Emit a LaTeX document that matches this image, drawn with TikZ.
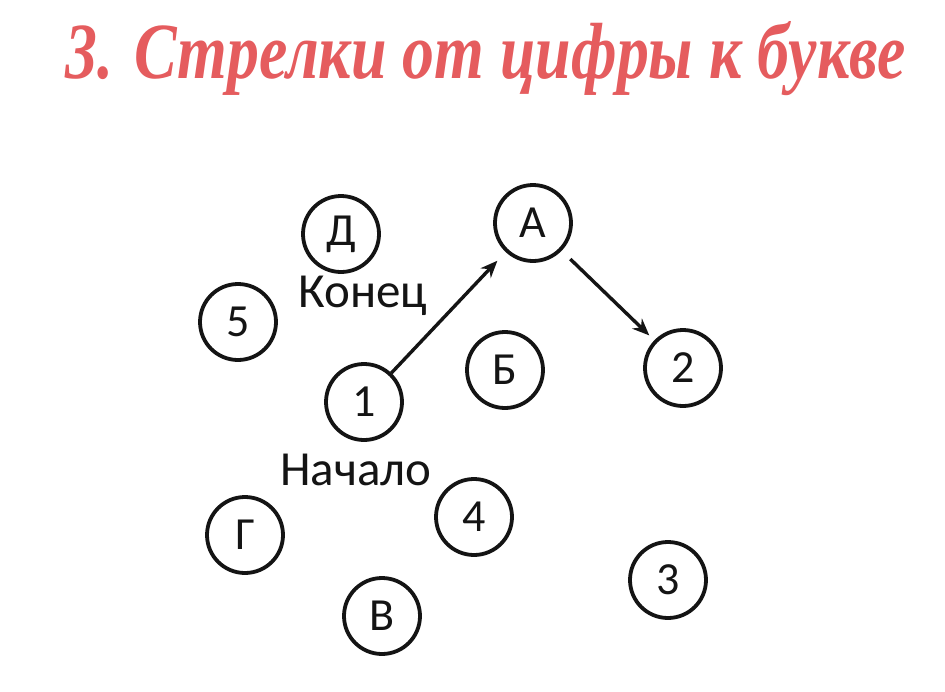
\documentclass[tikz,border=0pt]{standalone}
\usepackage{fontspec}
\setmainfont{Carlito}
\newfontfamily\titlefont{Liberation Serif}
\usetikzlibrary{arrows.meta}
\definecolor{titlecol}{RGB}{229,92,94}
\definecolor{inkcol}{RGB}{20,20,20}
\tikzset{
  ball/.style={circle,draw=inkcol,line width=3.8pt,minimum size=76pt,inner sep=0pt,
    font=\fontsize{46}{46}\selectfont,text=inkcol},
  lbl/.style={font=\fontsize{49}{49}\selectfont,text=inkcol,inner sep=0pt,anchor=base},
  arr/.style={line width=3.4pt,draw=inkcol,-{Stealth[length=17pt,width=14pt]}},
  ttl/.style={text=titlecol,inner sep=0pt,anchor=base west}
}
\begin{document}
\begin{tikzpicture}[x=1pt,y=-1pt]
\useasboundingbox[fill=white] (0,0) rectangle (945,691);
\node[ttl] (title) at (65,78) {\resizebox{840pt}{57pt}{\titlefont\bfseries\itshape 3. Стрелки от цифры к букве}};
\node[ball] (D) at (341,234) {Д};
\node[ball] (A) at (533,223) {А};
\node[ball] (n5) at (238,322) {5};
\node[ball] (B) at (505,370) {Б};
\node[ball] (n2) at (683,368) {2};
\node[ball] (n1) at (364,402) {1};
\node[ball] (n4) at (474,517) {4};
\node[ball] (G) at (245,535) {Г};
\node[ball] (n3) at (668,580) {3};
\node[ball] (V) at (382,616) {В};
\node[lbl] (end) at (363,307) {Конец};
\node[lbl] (start) at (356,485) {Начало};
\draw[arr,shorten >=12pt] (n1) -- (A);
\draw[arr,shorten <=12pt,shorten >=7pt] (A) -- (n2);
\end{tikzpicture}
\end{document}
